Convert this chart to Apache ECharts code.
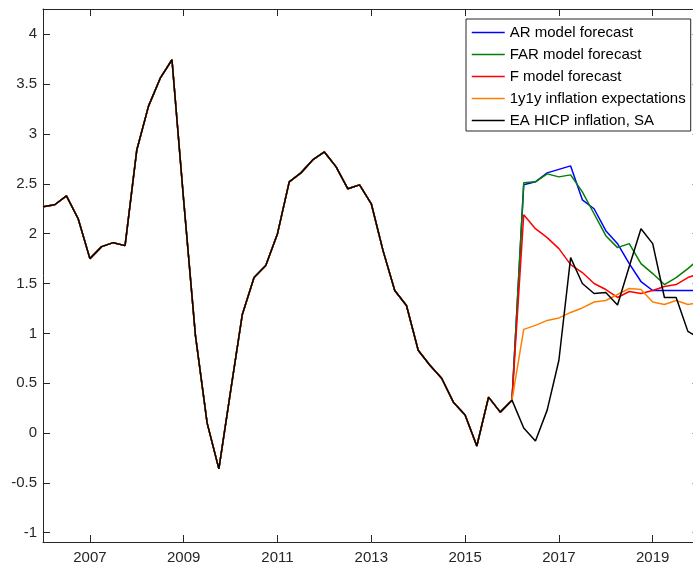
<!DOCTYPE html>
<html>
<head>
<meta charset="utf-8">
<script src="https://cdn.jsdelivr.net/npm/echarts@6/dist/echarts.min.js"></script>
<style>
html,body{margin:0;padding:0;overflow:hidden;background:#fff;}
#c{width:700px;height:572px;}
</style>
</head>
<body>
<div id="c"></div>
<script>
// Quarterly data, first quarter 2006Q1
const startYear = 2006;
// Shared history 2006Q1 .. 2016Q1 (EA HICP inflation, SA)
const history = [2.27, 2.29, 2.38, 2.15, 1.75, 1.87, 1.91, 1.88, 2.84, 3.28, 3.56, 3.745,
  2.33, 0.98, 0.10, -0.36, 0.42, 1.19, 1.56, 1.68, 2.0, 2.52, 2.61, 2.74, 2.82, 2.67,
  2.45, 2.49, 2.30, 1.83, 1.43, 1.28, 0.83, 0.68, 0.55, 0.31, 0.18, -0.13, 0.36, 0.21, 0.33];
// 2016Q2 .. 2020Q1
const hicpAfter = [0.05, -0.08, 0.23, 0.73, 1.76, 1.50, 1.40, 1.41, 1.285, 1.67, 2.05, 1.90, 1.36, 1.36, 1.02, 0.95];
const arForecast = [2.49, 2.52, 2.61, 2.645, 2.68, 2.34, 2.25, 2.03, 1.90, 1.70, 1.52, 1.43, 1.43, 1.43, 1.43, 1.43];
const farForecast = [2.51, 2.52, 2.60, 2.57, 2.59, 2.42, 2.20, 1.98, 1.86, 1.90, 1.70, 1.60, 1.49, 1.56, 1.65, 1.75];
const fForecast = [2.19, 2.05, 1.96, 1.85, 1.69, 1.61, 1.50, 1.44, 1.36, 1.42, 1.40, 1.43, 1.47, 1.49, 1.56, 1.60];
const expectations = [1.04, 1.08, 1.13, 1.155, 1.21, 1.255, 1.315, 1.33, 1.39, 1.45, 1.44, 1.315, 1.29, 1.33, 1.29, 1.31];

const seriesNames = ['AR model forecast', 'FAR model forecast', 'F model forecast', '1y1y inflation expectations', 'EA HICP inflation, SA'];
const seriesColors = ['#0000ff', '#008000', '#ff0000', '#ff8000', '#000000'];
const xTicks = [2007, 2009, 2011, 2013, 2015, 2017, 2019];
const yTicks = [-1, -0.5, 0, 0.5, 1, 1.5, 2, 2.5, 3, 3.5, 4];

function toPairs(vals) {
  return vals.map((v, i) => [startYear + i / 4, v]);
}
const seriesValues = [
  history.concat(arForecast),
  history.concat(farForecast),
  history.concat(fForecast),
  history.concat(expectations),
  history.concat(hicpAfter)
];

const axisColor = '#262626';
const font = '"Liberation Sans", Arial, sans-serif';

const chart = echarts.init(document.getElementById('c'), null, {renderer: 'canvas'});
chart.setOption({
  animation: false,
  backgroundColor: '#fff',
  textStyle: {fontFamily: font},
  grid: {left: 43, top: 9, bottom: 30, right: 0.4, containLabel: false},
  legend: {
    orient: 'vertical',
    left: 466, top: 19,
    data: seriesNames,
    backgroundColor: '#fff',
    borderColor: axisColor, borderWidth: 1, borderRadius: 0,
    padding: [6, 5, 3, 5],
    itemWidth: 33, itemHeight: 14, itemGap: 7,
    itemStyle: {opacity: 0, borderWidth: 0},
    lineStyle: {width: 1.5, opacity: 1},
    textStyle: {fontSize: 15, color: '#000', fontFamily: font, lineHeight: 14}
  },
  xAxis: [{
    type: 'value', min: 2006, max: 2020, position: 'bottom',
    axisLine: {show: true, onZero: false, lineStyle: {color: axisColor, width: 1}},
    axisTick: {show: true, inside: true, length: 7, customValues: xTicks, lineStyle: {color: axisColor}},
    axisLabel: {show: true, customValues: xTicks, margin: 8, fontSize: 15, color: axisColor, fontFamily: font,
      formatter: v => String(v)},
    splitLine: {show: false}
  }, {
    type: 'value', min: 2006, max: 2020, position: 'top',
    axisLine: {show: true, onZero: false, lineStyle: {color: axisColor, width: 1}},
    axisTick: {show: true, inside: true, length: 7, customValues: xTicks, lineStyle: {color: axisColor}},
    axisLabel: {show: false},
    splitLine: {show: false}
  }],
  yAxis: [{
    type: 'value', min: -1.093, max: 4.254, position: 'left',
    axisLine: {show: true, onZero: false, lineStyle: {color: axisColor, width: 1}},
    axisTick: {show: true, inside: true, length: 7, customValues: yTicks, lineStyle: {color: axisColor}},
    axisLabel: {show: true, customValues: yTicks, margin: 6, fontSize: 15, color: axisColor, fontFamily: font,
      formatter: v => String(v)},
    splitLine: {show: false}
  }, {
    type: 'value', min: -1.093, max: 4.254, position: 'right',
    axisLine: {show: true, onZero: false, lineStyle: {color: axisColor, width: 1}},
    axisTick: {show: true, inside: true, length: 7, customValues: yTicks, lineStyle: {color: axisColor}},
    axisLabel: {show: false},
    splitLine: {show: false}
  }],
  series: seriesNames.map((name, k) => ({
    name: name,
    type: 'line',
    xAxisIndex: 0, yAxisIndex: 0,
    data: toPairs(seriesValues[k]),
    symbol: 'none',
    clip: true,
    color: seriesColors[k],
    lineStyle: {color: seriesColors[k], width: 1.5},
    z: 2 + k
  }))
});
</script>
</body>
</html>
